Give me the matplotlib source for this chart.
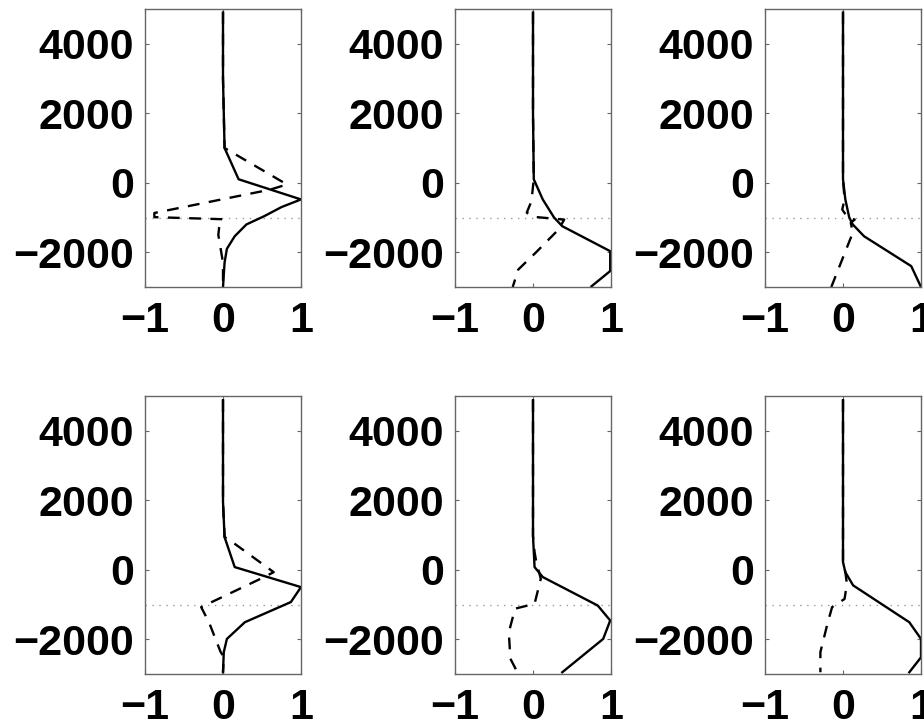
import matplotlib.pyplot as plt

plt.rcParams['font.family'] = ['Liberation Sans', 'DejaVu Sans']
plt.rcParams['font.weight'] = 'bold'

# depth levels (m) and profiles for each panel: solid and dashed curves
p1_solid_x = [0, 0.0, 0.01, 0.02, 0.2, 1.0, 0.75, 0.53, 0.3, 0.15, 0.05, 0.02, 0.0]
p1_solid_y = [4900, 3000, 2000, 1000, 100, -480, -700, -960, -1200, -1540, -1900, -2300, -3000]
p1_dash_x = [0, 0.0, 0.01, 0.02, 0.82, 0.6, -0.88, -0.88, 0.0, -0.05, -0.06, 0.0, 0.0]
p1_dash_y = [4900, 3000, 2000, 1000, -50, -200, -870, -990, -1050, -1300, -1500, -2300, -3000]

p2_solid_x = [0, 0.0, 0.01, 0.125, 0.27, 0.375, 0.99, 0.99, 0.75]
p2_solid_y = [4900, 2000, 100, -480, -1000, -1250, -1970, -2540, -2980]
p2_dash_x = [0, 0.0, 0.01, -0.02, -0.08, 0.0, 0.4, 0.33, 0.04, -0.19, -0.26]
p2_dash_y = [4900, 2000, 100, -530, -860, -980, -1060, -1340, -2000, -2500, -3000]

p3_solid_x = [0, 0.0, 0.03, 0.08, 0.125, 0.27, 0.875, 1.0]
p3_solid_y = [4900, 100, -480, -1000, -1200, -1540, -2400, -3000]
p3_dash_x = [0, 0.0, 0.02, -0.01, 0.06, 0.15, 0.1, 0.125, -0.15]
p3_dash_y = [4900, 100, -480, -770, -1000, -1060, -1150, -1440, -3000]

p4_solid_x = [0, 0.0, 0.02, 0.15, 1.0, 0.87, 0.28, 0.05, 0.01, 0.0]
p4_solid_y = [4880, 1950, 940, 77, -500, -930, -1510, -1990, -2370, -2950]
p4_dash_x = [0, 0.0, 0.02, 0.09, 0.65, 0.5, -0.28, -0.18, -0.03, 0.01, 0.0]
p4_dash_y = [4880, 1950, 940, 845, -70, -240, -1075, -1510, -2370, -2500, -2950]

p5_solid_x = [0, 0.0, 0.02, 0.125, 0.83, 0.99, 0.9, 0.375]
p5_solid_y = [4880, 970, 77, -210, -1030, -1460, -1990, -2950]
p5_dash_x = [0, 0.0, 0.02, 0.04, 0.1, 0.02, -0.23, -0.31, -0.29, -0.2]
p5_dash_y = [4880, 970, 510, 250, -260, -980, -1120, -1800, -2560, -2950]

p6_solid_x = [0, 0.0, 0.03, 0.13, 0.85, 1.0, 1.0, 0.85]
p6_solid_y = [4880, 220, -70, -450, -1510, -1990, -2520, -2950]
p6_dash_x = [0, 0.0, 0.03, 0.05, 0.02, -0.14, -0.2, -0.29, -0.29]
p6_dash_y = [4880, 220, -70, -400, -840, -1075, -1560, -2370, -2950]

panels = [
    (p1_solid_x, p1_solid_y, p1_dash_x, p1_dash_y),
    (p2_solid_x, p2_solid_y, p2_dash_x, p2_dash_y),
    (p3_solid_x, p3_solid_y, p3_dash_x, p3_dash_y),
    (p4_solid_x, p4_solid_y, p4_dash_x, p4_dash_y),
    (p5_solid_x, p5_solid_y, p5_dash_x, p5_dash_y),
    (p6_solid_x, p6_solid_y, p6_dash_x, p6_dash_y),
]

ref_depth = -1000
xticks = [-1, 0, 1]
yticks = [-2000, 0, 2000, 4000]

W, H = 924, 727
fig = plt.figure(figsize=(W / 100, H / 100), dpi=100)

lefts = [145, 455, 765]
tops = [9, 396]
aw, ah = 156, 278

for i, (sx, sy, dx, dy) in enumerate(panels):
    r, c = divmod(i, 3)
    ax = fig.add_axes([lefts[c] / W, 1 - (tops[r] + ah) / H, aw / W, ah / H])
    ax.axhline(ref_depth, color='0.6', lw=1, ls=(0, (1, 4)))
    ax.plot(dx, dy, color='black', lw=1.7, ls=(0, (5, 4)))
    ax.plot(sx, sy, color='black', lw=1.7)
    ax.set_xlim(-1, 1)
    ax.set_ylim(-3000, 5000)
    ax.set_xticks(xticks)
    ax.set_yticks(yticks)
    ax.tick_params(direction='in', length=3, width=0.8, color='0.4',
                   labelsize=31, top=True, right=True)
    ax.tick_params(axis='y', pad=8)
    ax.tick_params(axis='x', pad=10)
    for s in ax.spines.values():
        s.set_color('0.4')
        s.set_linewidth(1)

fig.savefig('out.png', dpi=100)
